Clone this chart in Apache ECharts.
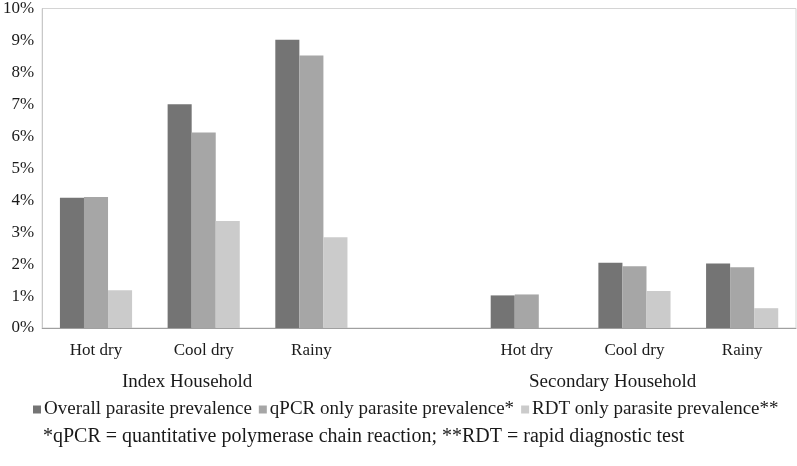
<!DOCTYPE html>
<html>
<head>
<meta charset="utf-8">
<script src="https://cdn.jsdelivr.net/npm/echarts@6/dist/echarts.min.js"></script>
<style>html,body{margin:0;padding:0;background:#fff}#c{width:797px;height:466px}</style>
</head>
<body>
<div id="c"></div>
<script>
var categories = ['Hot dry', 'Cool dry', 'Rainy', '', 'Hot dry', 'Cool dry', 'Rainy'];
var groupLabels = ['Index Household', 'Secondary Household'];
var seriesNames = ['Overall parasite prevalence', 'qPCR only parasite prevalence*', 'RDT only parasite prevalence**'];
var overall = [4.08, 7.0, 9.02, null, 1.02, 2.04, 2.02];
var qpcrOnly = [4.10, 6.12, 8.53, null, 1.05, 1.93, 1.90];
var rdtOnly = [1.18, 3.35, 2.84, null, 0, 1.16, 0.62];
var footnote = '*qPCR = quantitative polymerase chain reaction; **RDT = rapid diagnostic test';

var FONT = "'Liberation Serif','Times New Roman',serif";
var colors = ['#747474', '#a6a6a6', '#cbcbcb'];
var chart = echarts.init(document.getElementById('c'), null, {renderer: 'canvas'});
var values = [overall, qpcrOnly, rdtOnly];
chart.setOption({
  animation: false,
  color: colors,
  grid: {left: 39, right: 1, top: 8, bottom: 138, show: true, borderColor: '#d4d4d4', borderWidth: 1},
  legend: {
    left: 28, top: 395, itemWidth: 8, itemHeight: 8, icon: 'rect', itemGap: 7,
    textStyle: {fontFamily: FONT, fontSize: 19, color: '#1a1a1a', padding: [0, 0, 0, -2]},
    data: seriesNames
  },
  xAxis: {
    type: 'category', data: categories,
    axisLine: {lineStyle: {color: '#a0a0a0'}},
    axisTick: {show: false},
    axisLabel: {fontFamily: FONT, fontSize: 17, color: '#1a1a1a', margin: 14, interval: 0}
  },
  yAxis: {
    type: 'value', min: 0, max: 10, interval: 1,
    axisLine: {show: true, lineStyle: {color: '#c8c8c8'}},
    axisTick: {show: false},
    splitLine: {show: false},
    axisLabel: {fontFamily: FONT, fontSize: 17, color: '#1a1a1a', margin: 8, formatter: '{value}%'}
  },
  graphic: [
    {type: 'text', left: 122, top: 373, style: {text: groupLabels[0], font: '19px ' + FONT, fill: '#1a1a1a'}},
    {type: 'text', left: 529, top: 373, style: {text: groupLabels[1], font: '19px ' + FONT, fill: '#1a1a1a'}},
    {type: 'text', left: 43, top: 427, style: {text: footnote, font: '20px ' + FONT, fill: '#1a1a1a'}}
  ],
  series: seriesNames.map(function (n, i) {
    return {name: n, type: 'bar', data: values[i], barGap: '0%', barCategoryGap: '33%'};
  })
});
</script>
</body>
</html>
